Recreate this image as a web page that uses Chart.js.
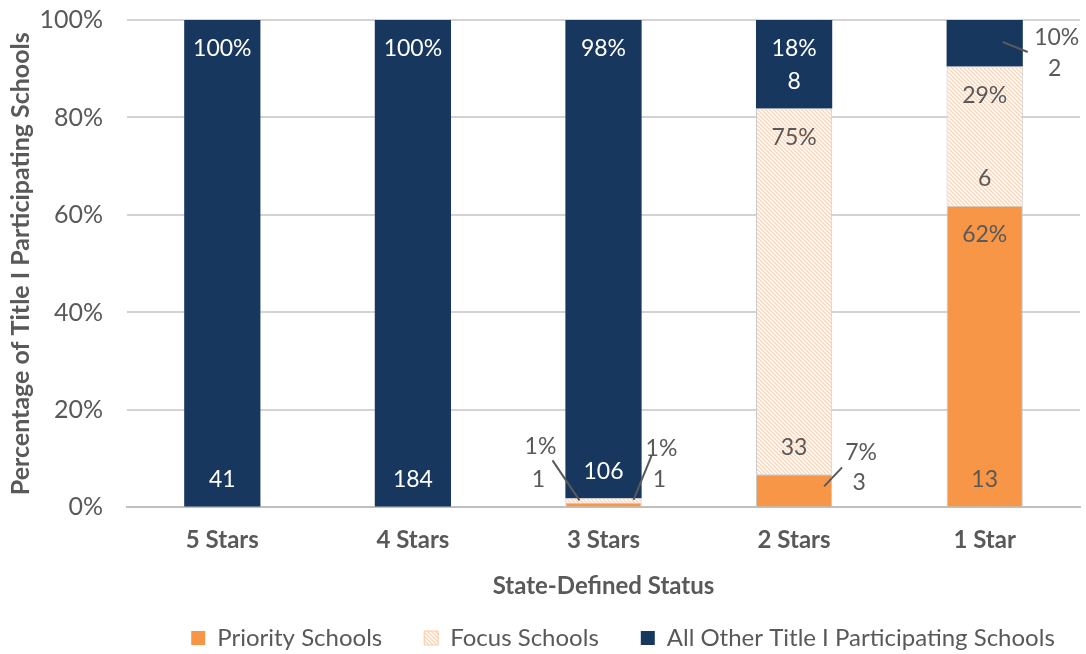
<!DOCTYPE html>
<html>
<head>
<meta charset="utf-8">
<script src="https://cdn.jsdelivr.net/npm/chart.js@4"></script>
<style>
  html, body { margin: 0; padding: 0; background: #fff; }
  #wrap { width: 1086px; height: 654px; }
</style>
</head>
<body>
<div id="wrap"><canvas id="c1" width="1086" height="654"></canvas></div>
<script>
// categories and school counts per status
const categories = ['5 Stars', '4 Stars', '3 Stars', '2 Stars', '1 Star'];
const priorityCounts = [0, 0, 1, 3, 13];
const focusCounts = [0, 0, 1, 33, 6];
const otherCounts = [41, 184, 106, 8, 2];
const seriesNames = ['Priority Schools', 'Focus Schools', 'All Other Title I Participating Schools'];
const yTicks = [0, 20, 40, 60, 80, 100];

const counts = [priorityCounts, focusCounts, otherCounts];
const totals = categories.map(function(c, i) {
  return priorityCounts[i] + focusCounts[i] + otherCounts[i];
});
function share(arr) {
  return arr.map(function(v, i) { return v / totals[i] * 100; });
}

const NAVY = '#17375e';
const ORANGE = '#f79646';
const GREY_TXT = '#595959';
const FONT = 'Lato, "Open Sans", sans-serif';

// fine diagonal hatch for focus schools
function makeHatch() {
  const p = document.createElement('canvas');
  p.width = 4; p.height = 4;
  const g = p.getContext('2d');
  g.fillStyle = '#fff';
  g.fillRect(0, 0, 4, 4);
  g.strokeStyle = '#fcd3b3';
  g.lineWidth = 1.3;
  g.beginPath();
  g.moveTo(-1, -1); g.lineTo(5, 5);
  g.moveTo(-3, 1); g.lineTo(3, 7);
  g.moveTo(1, -3); g.lineTo(7, 3);
  g.stroke();
  return g.createPattern(p, 'repeat');
}
const hatch = makeHatch();

// labels placed outside the bar with a leader line
// key: dataset-index, ref = edge of segment the offsets are measured from
const outsideLabels = {
  '0-2': { ref: 'base', dx: -63, pctDy: -60, cntDy: -27, line: [-51, -46, -24, -6] },
  '1-2': { ref: 'base', dx: 58, pctDy: -54, cntDy: -23, line: [48, -47, 30, -3] },
  '0-3': { ref: 'base', dx: 67, pctDy: -54, cntDy: -24, line: [48, -39, 30, -20] },
  '2-4': { ref: 'top', dx: 72, pctDy: 18, cntDy: 49, line: [18, 22, 43, 32] }
};

const labelPlugin = {
  id: 'segLabels',
  beforeLayout: function(chart) {
    // keep the wide gaps between legend items without a tall legend box
    const lg = chart.legend;
    if (lg && !lg._slim) {
      const fit = lg.fit.bind(lg);
      lg.fit = function() { fit(); this.height = 44; };
      lg._slim = true;
    }
  },
  afterLayout: function(chart) {
    // legend sits right of centre in the original
    chart.legend.left += 80;
    chart.legend.right += 80;
    chart.legend.top -= 26;
  },
  afterDatasetsDraw: function(chart) {
    const ctx = chart.ctx;
    ctx.save();
    ctx.font = '23px ' + FONT;
    ctx.textAlign = 'center';
    ctx.textBaseline = 'middle';
    chart.data.datasets.forEach(function(ds, d) {
      const meta = chart.getDatasetMeta(d);
      meta.data.forEach(function(el, i) {
        const n = counts[d][i];
        if (!n) return;
        const pct = Math.round(ds.data[i]) + '%';
        const top = Math.min(el.y, el.base);
        const bot = Math.max(el.y, el.base);
        const o = outsideLabels[d + '-' + i];
        if (o) {
          const r = o.ref === 'base' ? bot : top;
          ctx.fillStyle = GREY_TXT;
          ctx.fillText(pct, el.x + o.dx, r + o.pctDy);
          ctx.fillText(String(n), el.x + o.dx - 2, r + o.cntDy);
          ctx.strokeStyle = GREY_TXT;
          ctx.lineWidth = 2;
          ctx.beginPath();
          ctx.moveTo(el.x + o.line[0], r + o.line[1]);
          ctx.lineTo(el.x + o.line[2], r + o.line[3]);
          ctx.stroke();
        } else {
          ctx.fillStyle = d === 2 ? '#ffffff' : GREY_TXT;
          ctx.fillText(pct, el.x, top + 29);
          ctx.fillText(String(n), el.x, bot - 27);
        }
      });
    });
    ctx.restore();
  }
};

const config = {
  type: 'bar',
  data: {
    labels: categories,
    datasets: [{
      label: seriesNames[0],
      data: share(priorityCounts),
      backgroundColor: ORANGE,
      borderColor: '#c9c9c9',
      borderWidth: 1
    }, {
      label: seriesNames[1],
      data: share(focusCounts),
      backgroundColor: hatch,
      borderColor: '#c9c9c9',
      borderWidth: 1
    }, {
      label: seriesNames[2],
      data: share(otherCounts),
      backgroundColor: NAVY,
      borderColor: NAVY,
      borderWidth: 0
    }]
  },
  options: {
    responsive: false,
    animation: false,
    devicePixelRatio: 1,
    categoryPercentage: 0.8,
    barPercentage: 0.5,
    layout: { padding: { top: 0, right: 6, left: 6, bottom: 0 } },
    plugins: {
      tooltip: { enabled: false },
      legend: {
        position: 'bottom',
        labels: {
          color: GREY_TXT,
          font: { family: FONT, size: 24 },
          boxWidth: 14,
          boxHeight: 14,
          padding: 42,
          generateLabels: function(chart) {
            return chart.data.datasets.map(function(ds, i) {
              return {
                text: ds.label,
                fillStyle: ds.backgroundColor,
                strokeStyle: i === 1 ? '#fbc9a2' : ds.backgroundColor,
                lineWidth: i === 1 ? 1 : 0,
                fontColor: GREY_TXT,
                datasetIndex: i,
                hidden: false
              };
            });
          }
        }
      }
    },
    scales: {
      x: {
        stacked: true,
        grid: { display: false, drawTicks: false },
        border: { color: '#bfbfbf', width: 2 },
        ticks: { color: GREY_TXT, font: { family: FONT, size: 24, weight: 'bold' }, padding: 18 },
        title: {
          display: true,
          text: 'State-Defined Status',
          color: GREY_TXT,
          font: { family: FONT, size: 24, weight: 'bold' },
          padding: { top: 0, bottom: 9 }
        }
      },
      y: {
        stacked: true,
        min: 0,
        max: 100,
        border: { display: false },
        grid: { color: '#d3d3d3', lineWidth: 2, drawTicks: false },
        afterBuildTicks: function(axis) {
          axis.ticks = yTicks.map(function(v) { return { value: v }; });
        },
        afterFit: function(axis) {
          axis.width = 121;
          axis.paddingTop = 20;
          axis.paddingBottom = 14;
        },
        ticks: {
          color: GREY_TXT,
          font: { family: FONT, size: 25 },
          padding: 24,
          callback: function(v) { return v + '%'; }
        },
        title: {
          display: true,
          text: 'Percentage of Title I Participating Schools',
          color: GREY_TXT,
          font: { family: FONT, size: 25, weight: 'bold' },
          padding: { top: 0, bottom: 4 }
        }
      }
    }
  },
  plugins: [labelPlugin]
};

const ctx1 = document.getElementById('c1');
const chart1 = new Chart(ctx1, config);
</script>
</body>
</html>
